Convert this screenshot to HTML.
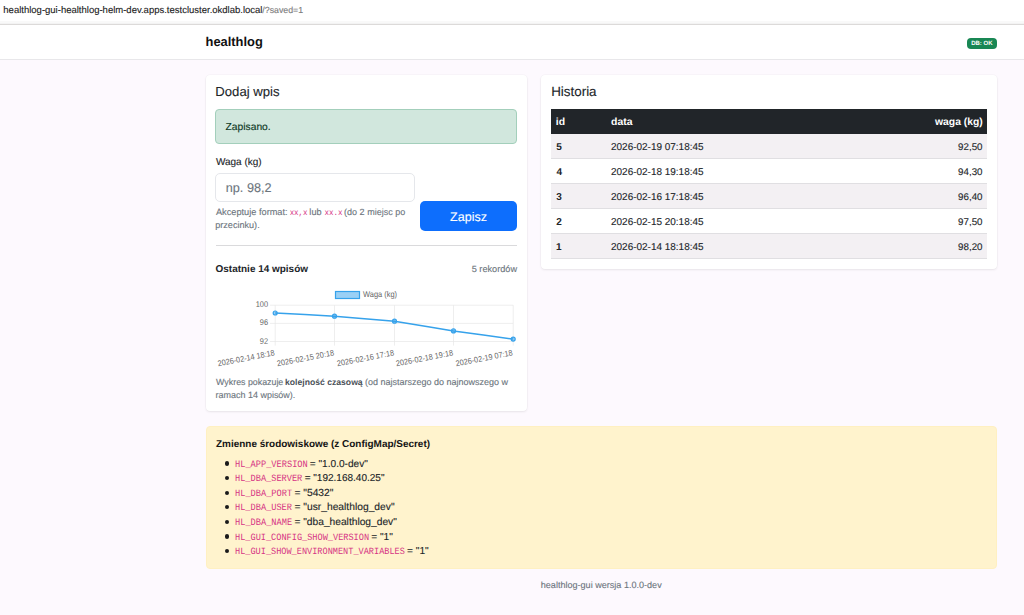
<!DOCTYPE html>
<html><head><meta charset="utf-8">
<style>
html,body{margin:0;padding:0;}
body{width:1024px;height:615px;overflow:hidden;position:relative;background:#fdf9fe;text-rendering:geometricPrecision;font-family:"Liberation Sans",sans-serif;color:#212529;}
.a{position:absolute;}
.t{position:absolute;white-space:nowrap;line-height:0;}
.card{position:absolute;background:#fff;border-radius:4px;box-shadow:0 1px 2.5px rgba(0,0,0,0.075),0 0 0 0.5px rgba(0,0,0,0.03);}
</style></head>
<body>
<div class="a" style="left:0;top:0;width:1024px;height:23px;background:#fff;"></div>
<div class="a" style="left:0;top:21px;width:1024px;height:2px;background:#f9f9f9;"></div>
<div class="a" style="left:0;top:23px;width:1024px;height:1px;background:#f3f3f3;"></div>
<div class="a" style="left:0;top:24px;width:1024px;height:1px;background:#dcdad9;"></div>
<div class="a" style="left:0;top:25px;width:1024px;height:34px;background:#fff;"></div>
<div class="a" style="left:0;top:59px;width:1024px;height:1px;background:#e8e7ea;"></div>
<div class="a" style="left:967px;top:38px;width:30px;height:11px;border-radius:4px;background:#198754;"></div>

<div class="card" style="left:206px;top:75px;width:321px;height:336px;"></div>
<div class="a" style="left:215px;top:109px;width:300px;height:33px;background:#d1e7dd;border:1px solid #a3cfbb;border-radius:4px;"></div>
<div class="a" style="left:215px;top:173px;width:198px;height:27px;background:#fff;border:1px solid #e5e7eb;border-radius:5px;"></div>
<div class="a" style="left:420px;top:201px;width:97px;height:30px;background:#0d6efd;border-radius:5px;"></div>
<div class="a" style="left:216px;top:245px;width:301px;height:1px;background:#dadadc;"></div>

<svg class="a" style="left:0;top:0" width="1024" height="615" viewBox="0 0 1024 615">
  <g stroke="#e6e6e6" stroke-width="0.7" fill="none">
    <line x1="270" y1="305.2" x2="513.2" y2="305.2"/>
    <line x1="270" y1="323.4" x2="513.2" y2="323.4"/>
    <line x1="270" y1="341.5" x2="513.2" y2="341.5"/>
    <line x1="275.2" y1="305.2" x2="275.2" y2="345.6"/>
    <line x1="334.5" y1="305.2" x2="334.5" y2="345.6"/>
    <line x1="394.5" y1="305.2" x2="394.5" y2="345.6"/>
    <line x1="453.5" y1="305.2" x2="453.5" y2="345.6"/>
    <line x1="513.2" y1="305.2" x2="513.2" y2="345.6"/>
  </g>
  <g font-family="Liberation Sans" font-size="7.4" fill="#666" text-anchor="end">
    <text transform="translate(268,306.9) scale(1,1.12)">100</text>
    <text transform="translate(268,325.2) scale(1,1.12)">96</text>
    <text transform="translate(268,343.5) scale(1,1.12)">92</text>
  </g>
  <rect x="335.5" y="291.5" width="24" height="7" fill="rgba(54,162,235,0.5)" stroke="#36a2eb" stroke-width="1.2"/>
  <text transform="translate(363,297.2) scale(1,1.12)" font-family="Liberation Sans" font-size="7.45" fill="#666">Waga (kg)</text>
  <path d="M275.2,313 C295,314.1 314.7,315.1 334.5,316.2 C354.5,318 374.5,319.4 394.5,321.2 C414.2,324.4 433.8,327.8 453.5,330.9 C473.4,333.6 493.3,336.4 513.2,339.1" fill="none" stroke="#36a2eb" stroke-width="1.5"/>
  <g fill="rgba(54,162,235,0.5)" stroke="#36a2eb" stroke-width="1.2">
    <circle cx="275.2" cy="313" r="2.0"/>
    <circle cx="334.5" cy="316.2" r="2.0"/>
    <circle cx="394.5" cy="321.2" r="2.0"/>
    <circle cx="453.5" cy="330.9" r="2.0"/>
    <circle cx="513.2" cy="339.1" r="2.0"/>
  </g>
  <g font-family="Liberation Sans" font-size="7.35" fill="#666" text-anchor="end">
    <text transform="translate(275.1,355.3) rotate(-11) scale(1,1.1)">2026-02-14 18:18</text>
    <text transform="translate(334.4,355.3) rotate(-11) scale(1,1.1)">2026-02-15 20:18</text>
    <text transform="translate(394.4,355.3) rotate(-11) scale(1,1.1)">2026-02-16 17:18</text>
    <text transform="translate(453.4,355.3) rotate(-11) scale(1,1.1)">2026-02-18 19:18</text>
    <text transform="translate(513.1,355.3) rotate(-11) scale(1,1.1)">2026-02-19 07:18</text>
  </g>
</svg>

<div class="card" style="left:541px;top:75px;width:456px;height:194px;"></div>
<div class="a" style="left:551px;top:108.5px;width:436px;height:25px;background:#212529;"></div>
<div class="a" style="left:551px;top:133.5px;width:436px;height:24px;background:#f3f0f3;"></div>
<div class="a" style="left:551px;top:157.5px;width:436px;height:1px;background:#e0dfe2;"></div>
<div class="a" style="left:551px;top:182.5px;width:436px;height:1px;background:#e0dfe2;"></div>
<div class="a" style="left:551px;top:183.5px;width:436px;height:24px;background:#f3f0f3;"></div>
<div class="a" style="left:551px;top:207.5px;width:436px;height:1px;background:#e0dfe2;"></div>
<div class="a" style="left:551px;top:232.5px;width:436px;height:1px;background:#e0dfe2;"></div>
<div class="a" style="left:551px;top:233.5px;width:436px;height:24px;background:#f3f0f3;"></div>
<div class="a" style="left:551px;top:257.5px;width:436px;height:1px;background:#e0dfe2;"></div>

<div class="a" style="left:206px;top:426px;width:789px;height:141px;background:#fff3cd;border:1px solid #fff0c2;border-radius:4px;"></div>
<div class="a" style="left:224.6px;top:461.40px;width:4.2px;height:4.2px;border-radius:50%;background:#1a1a1a;"></div>
<div class="a" style="left:224.6px;top:476.00px;width:4.2px;height:4.2px;border-radius:50%;background:#1a1a1a;"></div>
<div class="a" style="left:224.6px;top:490.60px;width:4.2px;height:4.2px;border-radius:50%;background:#1a1a1a;"></div>
<div class="a" style="left:224.6px;top:505.20px;width:4.2px;height:4.2px;border-radius:50%;background:#1a1a1a;"></div>
<div class="a" style="left:224.6px;top:519.80px;width:4.2px;height:4.2px;border-radius:50%;background:#1a1a1a;"></div>
<div class="a" style="left:224.6px;top:534.40px;width:4.2px;height:4.2px;border-radius:50%;background:#1a1a1a;"></div>
<div class="a" style="left:224.6px;top:549.00px;width:4.2px;height:4.2px;border-radius:50%;background:#1a1a1a;"></div>
<div class="t" style="left:3.33px;top:11px;font-size:9.51px;color:#1c1c1c;-webkit-text-stroke:0.12px currentColor;">healthlog-gui-healthlog-helm-dev.apps.testcluster.okdlab.local</div>
<div class="t" style="left:262.30px;top:10px;font-size:8.80px;color:#7b7b7b;-webkit-text-stroke:0.12px currentColor;">/?saved=1</div>
<div class="t" style="left:205.50px;top:42px;font-size:12.92px;color:#111;font-weight:bold;">healthlog</div>
<div class="t" style="left:971.18px;top:44px;font-size:6.02px;color:#fff;font-weight:bold;">DB: OK</div>
<div class="t" style="left:215.35px;top:92px;font-size:13.14px;color:#212529;-webkit-text-stroke:0.12px currentColor;">Dodaj wpis</div>
<div class="t" style="left:225.59px;top:128px;font-size:10.28px;color:#0a3622;-webkit-text-stroke:0.12px currentColor;">Zapisano.</div>
<div class="t" style="left:215.90px;top:163px;font-size:10.00px;color:#212529;-webkit-text-stroke:0.12px currentColor;">Waga (kg)</div>
<div class="t" style="left:225.81px;top:188px;font-size:12.66px;color:#6c757d;-webkit-text-stroke:0.12px currentColor;">np. 98,2</div>
<div class="t" style="left:450.12px;top:217px;font-size:12.51px;color:#ffffff;-webkit-text-stroke:0.12px currentColor;">Zapisz</div>
<div class="t" style="left:215.90px;top:212px;font-size:9.22px;color:#6c757d;-webkit-text-stroke:0.12px currentColor;">Akceptuje format:</div>
<div class="t" style="left:289.63px;top:214px;font-size:7.48px;color:#d63384;font-family:'Liberation Mono';transform:scaleY(1.12);transform-origin:0 1px;">xx,x</div>
<div class="t" style="left:309.36px;top:212px;font-size:9.15px;color:#6c757d;-webkit-text-stroke:0.12px currentColor;">lub</div>
<div class="t" style="left:324.42px;top:214px;font-size:7.57px;color:#d63384;font-family:'Liberation Mono';transform:scaleY(1.12);transform-origin:0 1px;">xx.x</div>
<div class="t" style="left:344.06px;top:212px;font-size:9.04px;color:#6c757d;-webkit-text-stroke:0.12px currentColor;">(do 2 miejsc po</div>
<div class="t" style="left:215.26px;top:225px;font-size:9.09px;color:#6c757d;-webkit-text-stroke:0.12px currentColor;">przecinku).</div>
<div class="t" style="left:215.60px;top:270px;font-size:9.96px;color:#212529;font-weight:bold;">Ostatnie 14 wpisów</div>
<div class="t" style="left:471.73px;top:269px;font-size:9.19px;color:#6c757d;-webkit-text-stroke:0.12px currentColor;">5 rekordów</div>
<div class="t" style="left:216.11px;top:382px;font-size:8.83px;color:#6c757d;-webkit-text-stroke:0.12px currentColor;">Wykres pokazuje</div>
<div class="t" style="left:284.99px;top:382px;font-size:8.65px;color:#495057;font-weight:bold;">kolejność czasową</div>
<div class="t" style="left:364.96px;top:382px;font-size:9.00px;color:#6c757d;-webkit-text-stroke:0.12px currentColor;">(od najstarszego do najnowszego w</div>
<div class="t" style="left:215.57px;top:395px;font-size:8.98px;color:#6c757d;-webkit-text-stroke:0.12px currentColor;">ramach 14 wpisów).</div>
<div class="t" style="left:551.13px;top:92px;font-size:13.41px;color:#212529;-webkit-text-stroke:0.12px currentColor;">Historia</div>
<div class="t" style="left:555.87px;top:123px;font-size:10.40px;color:#fff;font-weight:bold;">id</div>
<div class="t" style="left:611.08px;top:123px;font-size:10.40px;color:#fff;font-weight:bold;">data</div>
<div class="t" style="left:935.00px;top:123px;font-size:10.37px;color:#fff;font-weight:bold;">waga (kg)</div>
<div class="t" style="left:556.30px;top:148px;font-size:10.00px;color:#212529;font-weight:bold;">5</div>
<div class="t" style="left:611.00px;top:148px;font-size:9.98px;color:#212529;-webkit-text-stroke:0.12px currentColor;">2026-02-19 07:18:45</div>
<div class="t" style="left:958.12px;top:148px;font-size:9.75px;color:#212529;-webkit-text-stroke:0.12px currentColor;">92,50</div>
<div class="t" style="left:556.40px;top:173px;font-size:10.00px;color:#212529;font-weight:bold;">4</div>
<div class="t" style="left:611.00px;top:173px;font-size:9.98px;color:#212529;-webkit-text-stroke:0.12px currentColor;">2026-02-18 19:18:45</div>
<div class="t" style="left:958.12px;top:173px;font-size:9.75px;color:#212529;-webkit-text-stroke:0.12px currentColor;">94,30</div>
<div class="t" style="left:556.30px;top:198px;font-size:10.00px;color:#212529;font-weight:bold;">3</div>
<div class="t" style="left:611.00px;top:198px;font-size:9.98px;color:#212529;-webkit-text-stroke:0.12px currentColor;">2026-02-16 17:18:45</div>
<div class="t" style="left:958.12px;top:198px;font-size:9.75px;color:#212529;-webkit-text-stroke:0.12px currentColor;">96,40</div>
<div class="t" style="left:556.30px;top:223px;font-size:10.00px;color:#212529;font-weight:bold;">2</div>
<div class="t" style="left:611.00px;top:223px;font-size:9.98px;color:#212529;-webkit-text-stroke:0.12px currentColor;">2026-02-15 20:18:45</div>
<div class="t" style="left:958.12px;top:223px;font-size:9.75px;color:#212529;-webkit-text-stroke:0.12px currentColor;">97,50</div>
<div class="t" style="left:556.00px;top:248px;font-size:10.00px;color:#212529;font-weight:bold;">1</div>
<div class="t" style="left:611.00px;top:248px;font-size:9.98px;color:#212529;-webkit-text-stroke:0.12px currentColor;">2026-02-14 18:18:45</div>
<div class="t" style="left:958.12px;top:248px;font-size:9.75px;color:#212529;-webkit-text-stroke:0.12px currentColor;">98,20</div>
<div class="t" style="left:216.00px;top:445px;font-size:9.96px;color:#141414;font-weight:bold;">Zmienne środowiskowe (z ConfigMap/Secret)</div>
<div class="t" style="left:235.01px;top:465px;font-size:8.67px;color:#d63384;font-family:'Liberation Mono';transform:scaleY(1.12);transform-origin:0 2px;">HL_APP_VERSION</div>
<div class="t" style="left:309.77px;top:465px;font-size:10.15px;color:#212529;-webkit-text-stroke:0.12px currentColor;">= "1.0.0-dev"</div>
<div class="t" style="left:235.01px;top:479px;font-size:8.63px;color:#d63384;font-family:'Liberation Mono';transform:scaleY(1.12);transform-origin:0 2px;">HL_DBA_SERVER</div>
<div class="t" style="left:304.66px;top:479px;font-size:10.02px;color:#212529;-webkit-text-stroke:0.12px currentColor;">= "192.168.40.25"</div>
<div class="t" style="left:235.01px;top:494px;font-size:8.66px;color:#d63384;font-family:'Liberation Mono';transform:scaleY(1.12);transform-origin:0 2px;">HL_DBA_PORT</div>
<div class="t" style="left:294.41px;top:494px;font-size:10.29px;color:#212529;-webkit-text-stroke:0.12px currentColor;">= "5432"</div>
<div class="t" style="left:235.01px;top:508px;font-size:8.65px;color:#d63384;font-family:'Liberation Mono';transform:scaleY(1.12);transform-origin:0 2px;">HL_DBA_USER</div>
<div class="t" style="left:294.41px;top:508px;font-size:10.29px;color:#212529;-webkit-text-stroke:0.12px currentColor;">= "usr_healthlog_dev"</div>
<div class="t" style="left:235.01px;top:523px;font-size:8.67px;color:#d63384;font-family:'Liberation Mono';transform:scaleY(1.12);transform-origin:0 2px;">HL_DBA_NAME</div>
<div class="t" style="left:294.41px;top:523px;font-size:10.23px;color:#212529;-webkit-text-stroke:0.12px currentColor;">= "dba_healthlog_dev"</div>
<div class="t" style="left:235.01px;top:538px;font-size:8.61px;color:#d63384;font-family:'Liberation Mono';transform:scaleY(1.12);transform-origin:0 2px;">HL_GUI_CONFIG_SHOW_VERSION</div>
<div class="t" style="left:371.21px;top:538px;font-size:10.20px;color:#212529;-webkit-text-stroke:0.12px currentColor;">= "1"</div>
<div class="t" style="left:235.01px;top:552px;font-size:8.58px;color:#d63384;font-family:'Liberation Mono';transform:scaleY(1.12);transform-origin:0 2px;">HL_GUI_SHOW_ENVIRONMENT_VARIABLES</div>
<div class="t" style="left:407.05px;top:552px;font-size:10.20px;color:#212529;-webkit-text-stroke:0.12px currentColor;">= "1"</div>
<div class="t" style="left:540.77px;top:585px;font-size:9.07px;color:#6c757d;-webkit-text-stroke:0.12px currentColor;">healthlog-gui wersja 1.0.0-dev</div>
</body></html>
